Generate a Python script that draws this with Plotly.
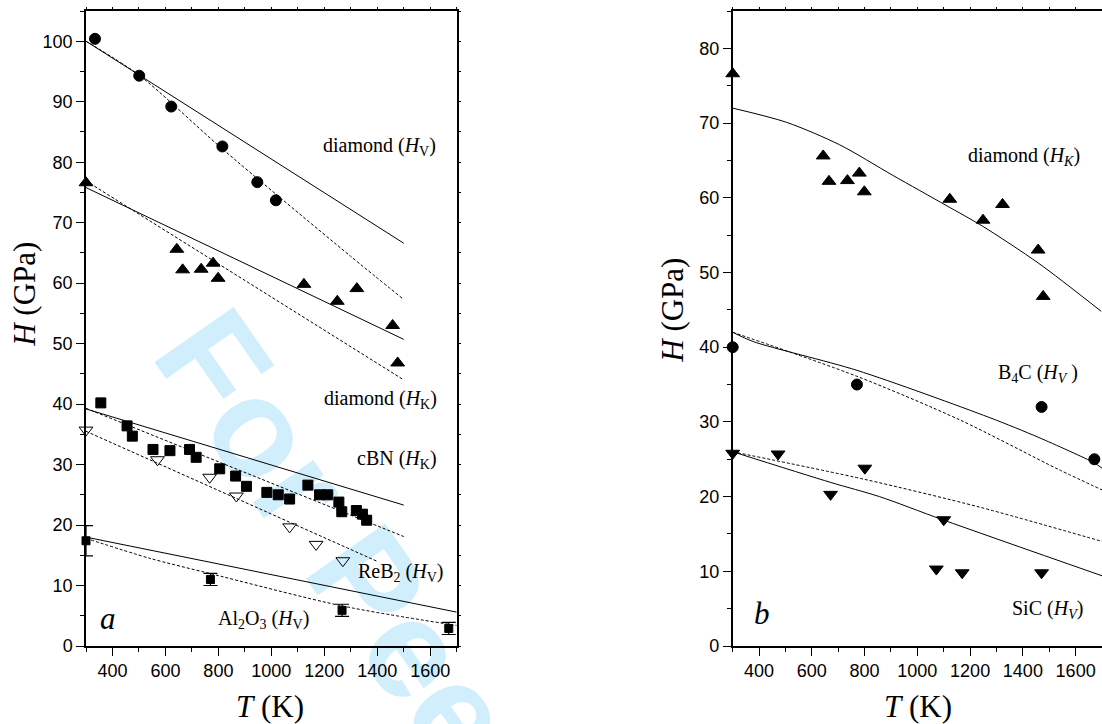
import plotly.graph_objects as go

# ---------------- data: panel a ----------------
dHV_T = [334, 501, 622, 815, 947, 1017]
dHV_H = [100.4, 94.3, 89.2, 82.6, 76.7, 73.7]
dHV_solid_T = [300, 1500]
dHV_solid_H = [100.0, 66.6]
dHV_dash_T = [300, 500, 815, 1295, 1500]
dHV_dash_H = [100.0, 94.4, 82.2, 64.6, 57.3]

dHK_T = [300, 643, 665, 735, 780, 799, 1123, 1249, 1323, 1458, 1477]
dHK_H = [76.6, 65.6, 62.2, 62.3, 63.3, 60.8, 59.8, 57.0, 59.1, 53.0, 46.8]
dHK_solid_T = [300, 1500]
dHK_solid_H = [75.8, 50.7]
dHK_dash_T = [300, 1500]
dHK_dash_H = [76.9, 44.0]

cBN_T = [356, 455, 475, 553, 617, 691, 716, 805, 865, 906, 983, 1026, 1069,
         1138, 1182, 1213, 1255, 1266, 1321, 1344, 1360]
cBN_H = [40.2, 36.4, 34.7, 32.5, 32.3, 32.5, 31.2, 29.3, 28.1, 26.4, 25.4, 25.0, 24.3,
         26.6, 25.0, 25.0, 23.8, 22.2, 22.4, 21.8, 20.8]
cBN_solid_T = [300, 1500]
cBN_solid_H = [39.2, 23.3]
cBN_dash_T = [300, 1500]
cBN_dash_H = [39.3, 18.1]

ReB2_T = [300, 570, 767, 868, 1069, 1169, 1270]
ReB2_H = [35.7, 30.8, 27.9, 24.8, 19.7, 16.8, 14.1]
ReB2_dash_T = [300, 1400]
ReB2_dash_H = [35.5, 14.0]

Al_T = [300, 770, 1267, 1670]
Al_H = [17.4, 11.0, 5.9, 2.9]
Al_err = [2.5, 1.0, 1.0, 1.0]
Al_solid_T = [300, 1700]
Al_solid_H = [18.0, 5.6]
Al_dash_T = [300, 541, 767, 1270, 1700]
Al_dash_H = [17.8, 14.5, 12.0, 6.6, 3.4]

# ---------------- data: panel b ----------------
bdHK_T = dHK_T
bdHK_H = dHK_H
bdHK_solid_T = [300, 504, 705, 907, 1108, 1247, 1461, 1697]
bdHK_solid_H = [72.0, 70.1, 67.1, 63.0, 59.0, 56.2, 51.2, 44.8]

B4C_T = [300, 771, 1471, 1671]
B4C_H = [40.0, 35.0, 32.0, 25.0]
B4C_solid_T = [300, 378, 771, 1272, 1461, 1671, 1700]
B4C_solid_H = [42.0, 40.75, 36.9, 30.6, 27.9, 24.5, 23.8]
B4C_dash_T = [300, 771, 1159, 1537, 1700]
B4C_dash_H = [42.0, 36.1, 30.3, 23.6, 20.9]

SiC_T = [300, 472, 671, 801, 1100, 1072, 1170, 1471]
SiC_H = [25.8, 25.7, 20.3, 23.8, 16.9, 10.3, 9.8, 9.8]
SiC_solid_T = [300, 671, 856, 1096, 1700]
SiC_solid_H = [26.0, 21.9, 20.0, 16.9, 9.4]
SiC_dash_T = [300, 801, 1235, 1700]
SiC_dash_H = [26.0, 22.3, 18.6, 14.0]

# labels
labels_a = ["diamond (<i>H</i><sub>V</sub>)", "diamond (<i>H</i><sub>K</sub>)",
            "cBN (<i>H</i><sub>K</sub>)", "ReB<sub>2</sub> (<i>H</i><sub>V</sub>)"]
labels_a_T = [1630, 1634, 1634, 1656]
labels_a_H = [82.6, 40.7, 30.8, 12.1]
label_al = "Al<sub>2</sub>O<sub>3</sub> (<i>H</i><sub>V</sub>)"
labels_b = ["diamond (<i>H<sub>K</sub></i>)", "B<sub>4</sub>C (<i>H<sub>V</sub></i> )",
            "SiC (<i>H<sub>V</sub></i>)"]
labels_b_T = [1625, 1618, 1637]
labels_b_H = [65.5, 36.5, 4.9]

W, H = 1102, 724
ML, MR, MT, MB = 0, 0, 11, 77.5
PH = H - MT - MB

fig = go.Figure()

def line(xs, ys, dash, ax="x", ay="y"):
    fig.add_trace(go.Scatter(x=xs, y=ys, mode="lines", xaxis=ax, yaxis=ay,
                             line=dict(color="black", width=1,
                                       shape="spline" if len(xs) > 2 else "linear",
                                       smoothing=0.8,
                                       dash="3px,2px" if dash else "solid"),
                             showlegend=False, hoverinfo="skip"))

def pts(xs, ys, symbol, ax="x", ay="y", size=11, fill="black", err=None):
    fig.add_trace(go.Scatter(x=xs, y=ys, mode="markers", xaxis=ax, yaxis=ay,
                             cliponaxis=False,
                             marker=dict(symbol=symbol, size=size, color=fill,
                                         line=dict(color="black", width=1)),
                             error_y=(dict(type="data", array=err, visible=True,
                                           color="black", thickness=1.2, width=7)
                                      if err else None),
                             showlegend=False))

# panel a
line(dHV_solid_T, dHV_solid_H, False)
line(dHV_dash_T, dHV_dash_H, True)
line(dHK_solid_T, dHK_solid_H, False)
line(dHK_dash_T, dHK_dash_H, True)
line(cBN_solid_T, cBN_solid_H, False)
line(cBN_dash_T, cBN_dash_H, True)
line(ReB2_dash_T, ReB2_dash_H, True)
line(Al_solid_T, Al_solid_H, False)
line(Al_dash_T, Al_dash_H, True)
pts(dHV_T, dHV_H, "circle", size=11)
pts(dHK_T, dHK_H, "triangle-up", size=12)
pts(cBN_T, cBN_H, "square", size=10)
pts(ReB2_T, ReB2_H, "triangle-down-open", size=12, fill="black")
pts(Al_T, Al_H, "square", size=8, err=Al_err)

# panel b
line(bdHK_solid_T, bdHK_solid_H, False, "x2", "y2")
line(B4C_solid_T, B4C_solid_H, False, "x2", "y2")
line(B4C_dash_T, B4C_dash_H, True, "x2", "y2")
line(SiC_solid_T, SiC_solid_H, False, "x2", "y2")
line(SiC_dash_T, SiC_dash_H, True, "x2", "y2")
pts(bdHK_T, bdHK_H, "triangle-up", "x2", "y2", size=12)
pts(B4C_T, B4C_H, "circle", "x2", "y2", size=11)
pts(SiC_T, SiC_H, "triangle-down", "x2", "y2", size=12)

# empty traces to create overlay subplots for small mirrored ticks
fig.add_trace(go.Scatter(x=[], y=[], xaxis="x3", yaxis="y3", showlegend=False))
fig.add_trace(go.Scatter(x=[], y=[], xaxis="x4", yaxis="y2", showlegend=False))

tickfont = dict(family="Liberation Sans, Arial, sans-serif", size=18, color="black")
dxa = [86 / W, 456.7 / W]
dxb = [732.7 / W, 1.0]

common_x = dict(range=[300, 1700], showline=True, linewidth=1.5, linecolor="black",
                mirror=True, ticks="outside", ticklen=8, tickwidth=1.2, tickcolor="black",
                dtick=200, tick0=0, showgrid=False, zeroline=False, tickfont=tickfont,
                minor=dict(dtick=100, tick0=0, ticks="outside", ticklen=4,
                           tickwidth=1.2, tickcolor="black", showgrid=False))
common_y = dict(showline=True, linewidth=1.5, linecolor="black",
                ticks="outside", ticklen=8, tickwidth=1.2, tickcolor="black",
                dtick=10, tick0=0, showgrid=False, zeroline=False, tickfont=tickfont,
                minor=dict(dtick=5, tick0=0, ticks="outside", ticklen=4,
                           tickwidth=1.2, tickcolor="black", showgrid=False))
overlay_x = dict(range=[300, 1700], side="top", ticks="outside", ticklen=3,
                 tickwidth=1, tickcolor="black", dtick=100, tick0=0,
                 showticklabels=False, showline=False, showgrid=False, zeroline=False)

fig.update_layout(
    width=W, height=H,
    margin=dict(l=ML, r=MR, t=MT, b=MB, autoexpand=False),
    font=dict(color="black", family="Liberation Serif, serif"),
    paper_bgcolor="white", plot_bgcolor="rgba(0,0,0,0)",
    xaxis=dict(domain=dxa, anchor="y", **common_x),
    yaxis=dict(domain=[0, 1], anchor="x", range=[0, 105], mirror=True, **common_y),
    xaxis2=dict(domain=dxb, anchor="y2", **common_x),
    yaxis2=dict(domain=[0, 1], anchor="x2", range=[0, 85], mirror=False, **common_y),
    xaxis3=dict(overlaying="x", anchor="y", **overlay_x),
    yaxis3=dict(overlaying="y", anchor="x", side="right", range=[0, 105],
                ticks="outside", ticklen=3, tickwidth=1, tickcolor="black",
                dtick=5, tick0=0, showticklabels=False, showline=False,
                showgrid=False, zeroline=False),
    xaxis4=dict(overlaying="x2", anchor="y2", **overlay_x),
    showlegend=False,
)

serif = "Liberation Serif, Times New Roman, serif"
ann = []
for t, x, y in zip(labels_a, labels_a_T, labels_a_H):
    ann.append(dict(text=t, x=x, y=y, xref="x", yref="y", xanchor="right",
                    yanchor="middle", showarrow=False,
                    font=dict(family=serif, size=20, color="black")))
ann.append(dict(text=label_al, x=971, y=4.4, xref="x", yref="y", xanchor="center",
                yanchor="middle", showarrow=False,
                font=dict(family=serif, size=20, color="black")))
ann.append(dict(text="<i>a</i>", x=383, y=4.6, xref="x", yref="y", showarrow=False,
                xanchor="center", yanchor="middle",
                font=dict(family=serif, size=31, color="black")))
for t, x, y in zip(labels_b, labels_b_T, labels_b_H):
    ann.append(dict(text=t, x=x, y=y, xref="x2", yref="y2", xanchor="right",
                    yanchor="middle", showarrow=False,
                    font=dict(family=serif, size=20, color="black")))
ann.append(dict(text="<i>b</i>", x=410, y=4.4, xref="x2", yref="y2", showarrow=False,
                xanchor="center", yanchor="middle",
                font=dict(family=serif, size=31, color="black")))

def py2paper(py):
    return (H - MB - py) / PH

# axis titles
for xc, yc in ((25 / W, 295), (673 / W, 311)):
    ann.append(dict(text="<i>H</i> (GPa)", x=xc, y=py2paper(yc),
                    xref="paper", yref="paper", textangle=-90, showarrow=False,
                    xanchor="center", yanchor="middle",
                    font=dict(family=serif, size=31, color="black")))
for xc in (270 / W, 918 / W):
    ann.append(dict(text="<i>T</i> (K)", x=xc, y=py2paper(707), xref="paper",
                    yref="paper", showarrow=False, xanchor="center", yanchor="middle",
                    font=dict(family=serif, size=31, color="black")))
fig.update_layout(annotations=ann)

# watermark (below the data)
cx, cy = 512 / W, py2paper(766)
fig.add_shape(type="rect", xref="paper", yref="paper",
              x0=cx - 0.01, x1=cx + 0.01, y0=cy - 0.01, y1=cy + 0.01,
              line=dict(width=0), fillcolor="rgba(0,0,0,0)", layer="below",
              label=dict(text="For Peer Review", textangle=55,
                         textposition="middle center",
                         font=dict(family="Liberation Sans, Arial", size=140,
                                   weight="bold", color="rgb(208,238,252)")))

fig.write_html("out.html", config={"displayModeBar": False},
               post_script="document.body.style.margin='0';"
                           "document.body.style.overflow='hidden';")
